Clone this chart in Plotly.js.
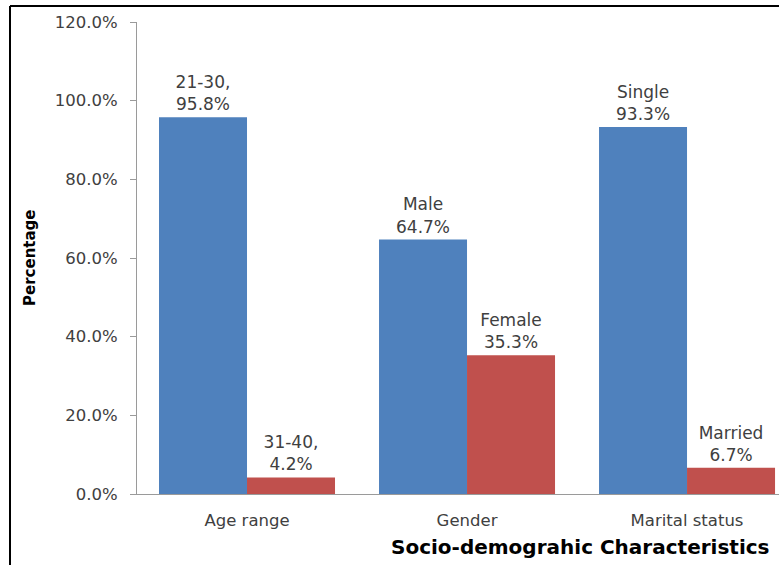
<!DOCTYPE html>
<html>
<head>
<meta charset="utf-8">
<script src="https://cdn.plot.ly/plotly-3.0.1.min.js"></script>
<style>html,body{margin:0;padding:0;background:#fff;}#chart{width:779px;height:565px;}</style>
</head>
<body>
<div id="chart"></div>
<script>
const categories = ["Age range", "Gender", "Marital status"];
const firstValues = [95.8, 64.7, 93.3];
const firstLabels = ["21-30,", "Male", "Single"];
const secondValues = [4.2, 35.3, 6.7];
const secondLabels = ["31-40,", "Female", "Married"];
const yTicks = [0, 20, 40, 60, 80, 100, 120];

const FONT = "DejaVu Sans, sans-serif";
const TXT = "#404040";

function labelsFor(names, vals) {
  return names.map((n, i) => n + "<br>" + vals[i].toFixed(1) + "%");
}

const traces = [
  {
    type: "bar", x: categories, y: firstValues,
    text: labelsFor(firstLabels, firstValues),
    textposition: "outside", cliponaxis: false,
    textfont: {family: FONT, size: 17, color: TXT},
    marker: {color: "#4F81BD"}, hoverinfo: "none"
  },
  {
    type: "bar", x: categories, y: secondValues,
    text: labelsFor(secondLabels, secondValues),
    textposition: "outside", cliponaxis: false,
    textfont: {family: FONT, size: 17, color: TXT},
    marker: {color: "#C0504D"}, hoverinfo: "none"
  }
];

const L = 137, T = 22, B = 71, W = 779, H = 565;
const pw = W - L, ph = H - T - B;
const px = v => (v - L) / pw;
const py = v => (H - B - v) / ph;

const layout = {
  width: W, height: H,
  margin: {l: L, r: 0, t: T, b: B, pad: 0},
  paper_bgcolor: "#fff", plot_bgcolor: "#fff",
  barmode: "group", bargap: 0.2, bargroupgap: 0,
  showlegend: false,
  font: {family: FONT, color: TXT},
  xaxis: {
    type: "category", range: [-0.5, 2.418],
    showline: true, linecolor: "#9a9a9a", linewidth: 1,
    ticks: "", showgrid: false, zeroline: false,
    ticklabelstandoff: 11,
    tickfont: {family: FONT, size: 16.5, color: TXT}
  },
  yaxis: {
    range: [0, 120], tickvals: yTicks,
    ticktext: yTicks.map(v => v.toFixed(1) + "%"),
    showline: true, linecolor: "#9a9a9a", linewidth: 1,
    ticks: "outside", ticklen: 6, tickcolor: "#9a9a9a",
    ticklabelstandoff: 9,
    showgrid: false, zeroline: false,
    tickfont: {family: FONT, size: 16.5, color: TXT}
  },
  annotations: [
    {
      xref: "paper", yref: "paper", x: px(580), y: py(547),
      xanchor: "center", yanchor: "middle", showarrow: false,
      text: "<b>Socio-demograhic Characteristics</b>",
      font: {family: FONT, size: 20, color: "#000"}
    },
    {
      xref: "paper", yref: "paper", x: px(30), y: py(258),
      xanchor: "center", yanchor: "middle", showarrow: false, textangle: -90,
      text: "<b>Percentage</b>",
      font: {family: FONT, size: 15, color: "#000"}
    }
  ],
  shapes: [
    {type: "line", xref: "paper", yref: "paper", x0: px(10), x1: px(10), y0: py(6), y1: py(565), line: {color: "#000", width: 2}},
    {type: "line", xref: "paper", yref: "paper", x0: px(10), x1: px(779), y0: py(6), y1: py(6), line: {color: "#000", width: 2}}
  ]
};

Plotly.newPlot("chart", traces, layout, {displayModeBar: false, staticPlot: true});
</script>
</body>
</html>
